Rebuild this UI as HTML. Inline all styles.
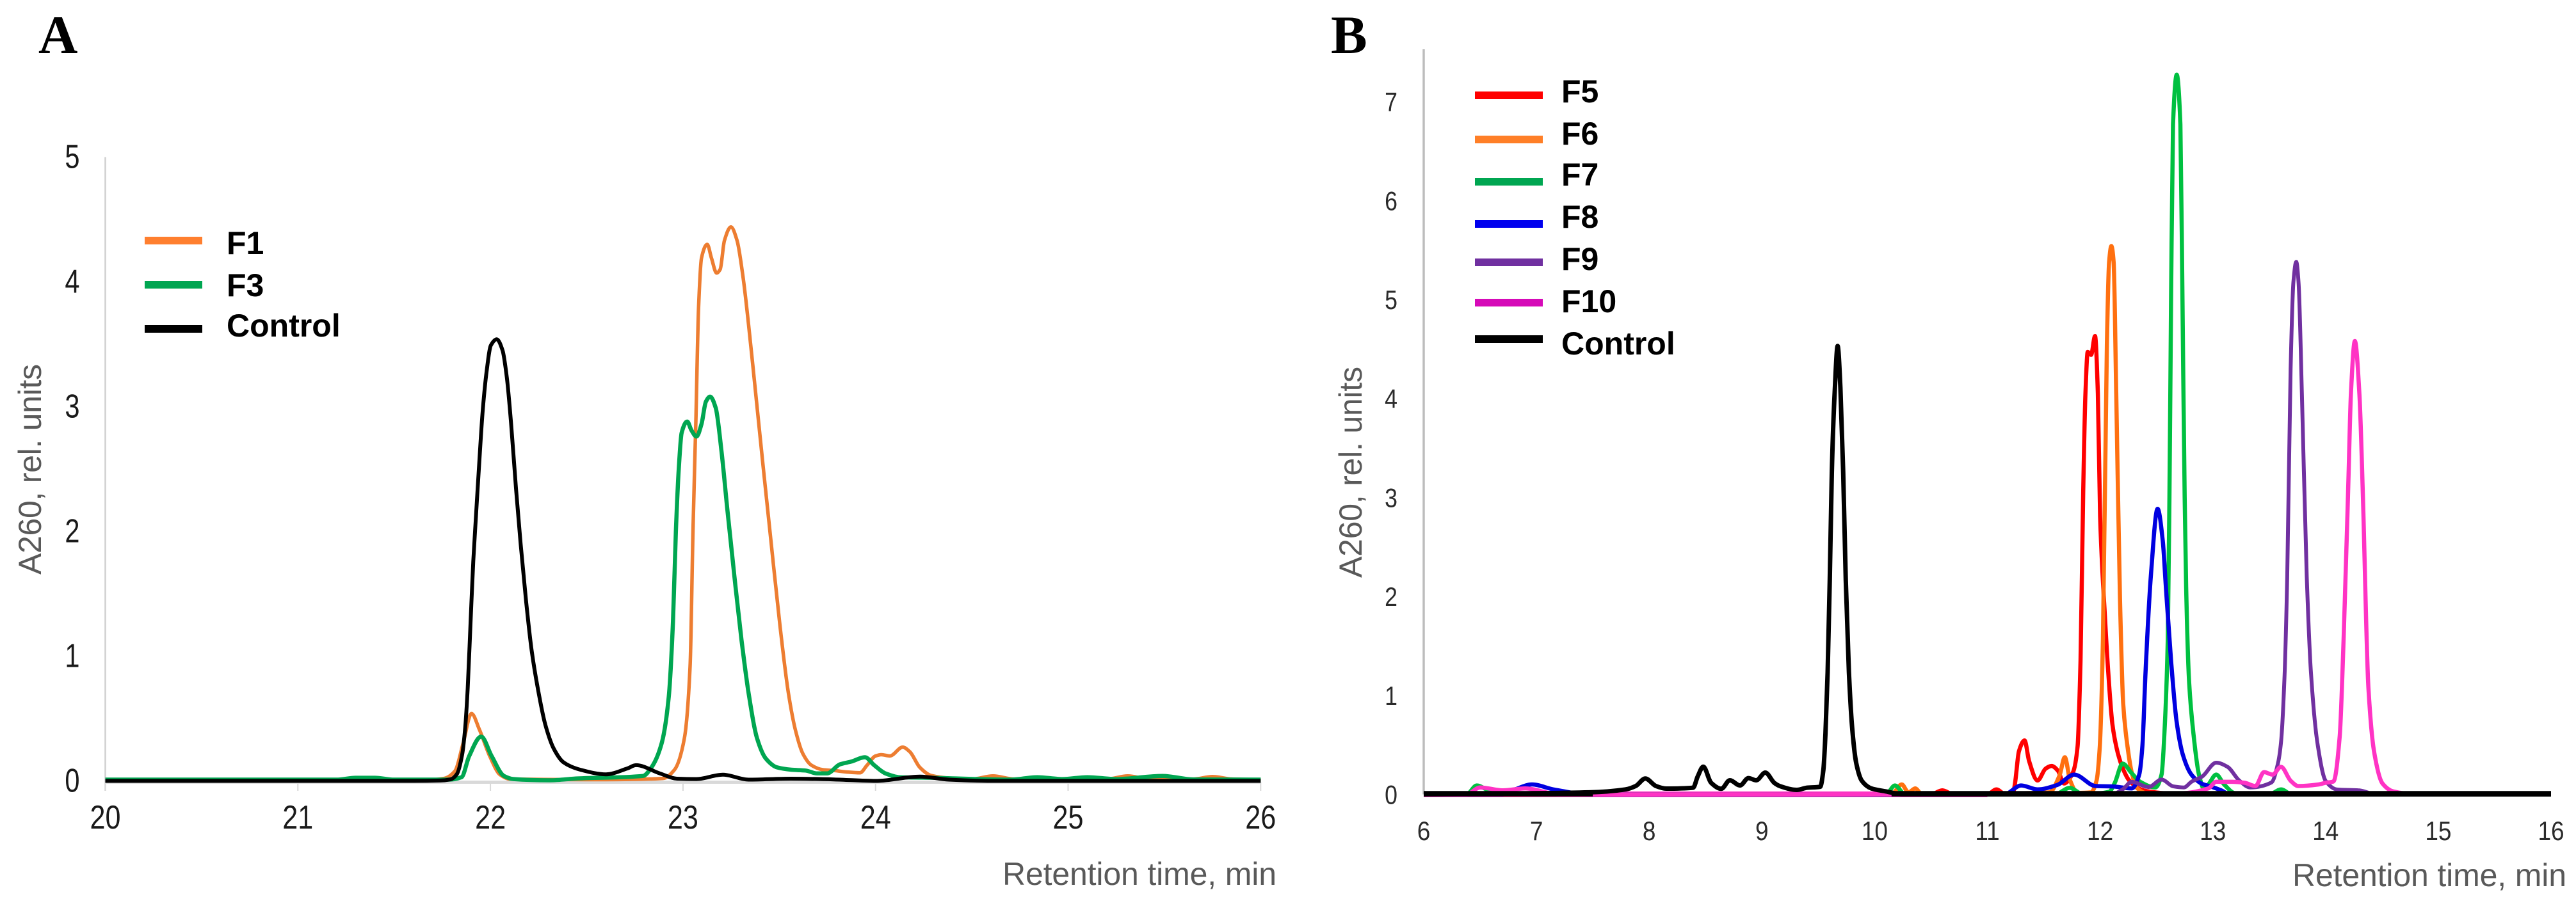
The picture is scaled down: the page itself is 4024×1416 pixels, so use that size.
<!DOCTYPE html>
<html lang="en">
<head>
<meta charset="utf-8">
<title>A260 retention time chromatograms</title>
<style>
html,body{margin:0;padding:0;background:#fff;width:4024px;height:1416px;overflow:hidden}
svg{display:block}
text{font-family:"Liberation Sans",Arial,sans-serif}
</style>
</head>
<body>
<svg id="figure" xmlns="http://www.w3.org/2000/svg" width="4024" height="1416" viewBox="0 0 4024 1416">
  <rect width="4024" height="1416" fill="#fff"/>
  <g id="panelA">
    <text x="60" y="83" font-size="85" font-weight="700" style="font-family:'Liberation Serif',serif">A</text>
    <text transform="translate(64,898) rotate(-90)" font-size="50" fill="#595959" textLength="329">A260, rel. units</text>
    <text x="1566" y="1383" font-size="50" fill="#595959" textLength="428">Retention time, min</text>
    <g>
      <rect x="226" y="370" width="90" height="12" fill="#ff7f2f"/>
      <text x="354" y="397" font-size="50" font-weight="700">F1</text>
      <rect x="226" y="439" width="90" height="12" fill="#00a651"/>
      <text x="354" y="463" font-size="50" font-weight="700">F3</text>
      <rect x="226" y="508" width="90" height="12" fill="#000"/>
      <text x="354" y="526" font-size="50" font-weight="700">Control</text>
    </g>
  </g>
  <g id="panelB">
    <text x="2079" y="83" font-size="85" font-weight="700" style="font-family:'Liberation Serif',serif">B</text>
    <text transform="translate(2127,903) rotate(-90)" font-size="50" fill="#595959" textLength="330">A260, rel. units</text>
    <text x="3581" y="1385" font-size="50" fill="#595959" textLength="428">Retention time, min</text>
    <g>
      <rect x="2304" y="143" width="106" height="12" fill="#ff0000"/>
      <text x="2439" y="160" font-size="50" font-weight="700">F5</text>
      <rect x="2304" y="212" width="106" height="12" fill="#ff7f27"/>
      <text x="2439" y="226" font-size="50" font-weight="700">F6</text>
      <rect x="2304" y="278" width="106" height="12" fill="#00a651"/>
      <text x="2439" y="290" font-size="50" font-weight="700">F7</text>
      <rect x="2304" y="344" width="106" height="12" fill="#0000ee"/>
      <text x="2439" y="356" font-size="50" font-weight="700">F8</text>
      <rect x="2304" y="404" width="106" height="12" fill="#7030a0"/>
      <text x="2439" y="422" font-size="50" font-weight="700">F9</text>
      <rect x="2304" y="467" width="106" height="12" fill="#d60ab8"/>
      <text x="2439" y="488" font-size="50" font-weight="700">F10</text>
      <rect x="2304" y="524" width="106" height="12" fill="#000"/>
      <text x="2439" y="554" font-size="50" font-weight="700">Control</text>
    </g>
  </g>
</svg>
<script>
/* Panel A axes */
const xTicksA = [20, 21, 22, 23, 24, 25, 26];
const yTicksA = [0, 1, 2, 3, 4, 5];

/* Panel A series: retention time (min) and A260 */
const timeF1 = [20, 21.7, 21.76, 21.816, 21.858, 21.902, 21.943, 21.996, 22.05, 22.1, 22.6, 22.896, 22.956, 23.007, 23.037, 23.052, 23.067, 23.081, 23.096, 23.126, 23.148, 23.175, 23.193, 23.215, 23.249, 23.281, 23.311, 23.341, 23.37, 23.415, 23.459, 23.504, 23.548, 23.585, 23.622, 23.667, 23.726, 23.785, 23.859, 23.919, 23.956, 24, 24.03, 24.074, 24.141, 24.178, 24.23, 24.289, 24.4, 24.5, 24.61, 24.72, 25.2, 25.31, 25.42, 25.65, 25.75, 25.85, 26];
const valueF1 = [0.01, 0.01, 0.02, 0.08, 0.3, 0.54, 0.41, 0.2, 0.05, 0.015, 0.01, 0.02, 0.09, 0.34, 0.92, 2, 2.9, 3.8, 4.19, 4.3, 4.19, 4.07, 4.1, 4.33, 4.44, 4.33, 4.05, 3.65, 3.22, 2.54, 1.89, 1.24, 0.7, 0.4, 0.22, 0.126, 0.09, 0.083, 0.07, 0.065, 0.126, 0.2, 0.21, 0.2, 0.27, 0.234, 0.108, 0.043, 0.02, 0.015, 0.04, 0.015, 0.015, 0.04, 0.015, 0.015, 0.035, 0.015, 0.01];
const timeF3 = [20, 21.2, 21.3, 21.4, 21.5, 21.78, 21.85, 21.89, 21.952, 22.006, 22.07, 22.12, 22.31, 22.452, 22.793, 22.837, 22.889, 22.926, 22.948, 22.963, 22.978, 22.993, 23.022, 23.044, 23.07, 23.096, 23.119, 23.141, 23.17, 23.2, 23.23, 23.267, 23.304, 23.341, 23.385, 23.43, 23.489, 23.563, 23.637, 23.696, 23.748, 23.815, 23.874, 23.945, 23.993, 24.052, 24.126, 24.3, 24.7, 24.84, 24.97, 25.1, 25.25, 25.49, 25.65, 26];
const valueF3 = [0.01, 0.01, 0.025, 0.025, 0.01, 0.01, 0.03, 0.2, 0.355, 0.2, 0.04, 0.015, 0.005, 0.02, 0.04, 0.11, 0.3, 0.67, 1.28, 2, 2.5, 2.79, 2.88, 2.81, 2.76, 2.86, 3.04, 3.08, 2.99, 2.64, 2.18, 1.64, 1.13, 0.7, 0.34, 0.18, 0.108, 0.09, 0.083, 0.06, 0.06, 0.133, 0.155, 0.19, 0.126, 0.06, 0.03, 0.025, 0.01, 0.03, 0.015, 0.03, 0.015, 0.04, 0.012, 0.01];
const timeControlA = [20, 21.6, 21.74, 21.792, 21.825, 21.853, 21.869, 21.882, 21.897, 21.911, 21.925, 21.941, 21.96, 21.98, 22.002, 22.033, 22.063, 22.085, 22.107, 22.133, 22.157, 22.185, 22.213, 22.246, 22.285, 22.329, 22.379, 22.468, 22.6, 22.711, 22.756, 22.88, 22.97, 23.07, 23.207, 23.34, 23.56, 23.785, 24, 24.23, 24.38, 24.6, 26];
const valueControlA = [0, 0, 0.003, 0.012, 0.053, 0.21, 0.428, 0.742, 1.275, 1.76, 2.12, 2.53, 2.97, 3.28, 3.49, 3.54, 3.45, 3.235, 2.87, 2.34, 1.9, 1.445, 1.057, 0.742, 0.452, 0.258, 0.15, 0.089, 0.053, 0.1, 0.126, 0.06, 0.018, 0.015, 0.05, 0.01, 0.018, 0.012, 0, 0.035, 0.01, 0, 0];

/* Panel B axes */
const xTicksB = [6, 7, 8, 9, 10, 11, 12, 13, 14, 15, 16];
const yTicksB = [0, 1, 2, 3, 4, 5, 6, 7];

/* Panel B series: retention time (min) and A260 */
const timeF5 = [6, 10.5, 10.6, 10.7, 11.0, 11.08, 11.16, 11.227, 11.245, 11.28, 11.33, 11.37, 11.445, 11.517, 11.57, 11.625, 11.68, 11.76, 11.8, 11.826, 11.85, 11.87, 11.89, 11.92, 11.955, 11.98, 12, 12.044, 12.072, 12.11, 12.157, 12.2, 12.26, 12.385, 12.53, 12.7, 16];
const valueF5 = [0, 0, 0.04, 0, 0, 0.05, 0, 0.01, 0.11, 0.435, 0.544, 0.336, 0.14, 0.26, 0.287, 0.24, 0.11, 0.224, 0.483, 1.345, 3.06, 4.05, 4.47, 4.44, 4.63, 4.05, 2.81, 1.776, 1.237, 0.7, 0.418, 0.267, 0.138, 0.04, 0.015, 0, 0];
const timeF6 = [6, 10.15, 10.24, 10.3, 10.36, 10.42, 11.55, 11.64, 11.687, 11.734, 11.8, 11.92, 11.968, 11.997, 12.025, 12.06, 12.08, 12.1, 12.12, 12.143, 12.176, 12.205, 12.243, 12.28, 12.33, 12.45, 16];
const valueF6 = [0, 0, 0.1, 0.02, 0.06, 0, 0.02, 0.19, 0.375, 0.14, 0.015, 0.02, 0.138, 0.483, 1.56, 4.54, 5.38, 5.54, 5.38, 4.05, 1.99, 0.914, 0.483, 0.224, 0.06, 0, 0];
const timeF7 = [6, 6.38, 6.47, 6.6, 7, 10.1, 10.18, 10.27, 11.6, 11.73, 11.85, 12.08, 12.13, 12.2, 12.28, 12.356, 12.49, 12.545, 12.574, 12.6, 12.615, 12.63, 12.647, 12.68, 12.712, 12.73, 12.75, 12.763, 12.79, 12.83, 12.877, 12.92, 12.96, 13.03, 13.1, 13.2, 13.5, 13.606, 13.7, 16];
const valueF7 = [0, 0, 0.09, 0.03, 0, 0, 0.09, 0, 0, 0.065, 0, 0.025, 0.116, 0.31, 0.214, 0.127, 0.07, 0.2, 0.7, 1.56, 3, 5.04, 6.77, 7.27, 6.77, 5.04, 3, 2.1, 1.13, 0.59, 0.2, 0.06, 0.1, 0.2, 0.1, 0.01, 0, 0.05, 0, 0];
const timeF8 = [6, 6.7, 6.81, 6.96, 7.15, 7.47, 11.15, 11.3, 11.445, 11.62, 11.77, 11.96, 12.11, 12.28, 12.347, 12.375, 12.403, 12.45, 12.51, 12.556, 12.583, 12.63, 12.678, 12.735, 12.81, 12.905, 12.98, 13.075, 13.15, 16];
const valueF8 = [0, 0, 0.05, 0.1, 0.05, 0, 0, 0.09, 0.05, 0.095, 0.2, 0.084, 0.08, 0.06, 0.2, 0.483, 1.237, 2.2, 2.885, 2.56, 2.1, 1.345, 0.74, 0.397, 0.2, 0.106, 0.08, 0.04, 0, 0];
const timeF9 = [6, 12.1, 12.2, 12.28, 12.43, 12.545, 12.65, 12.744, 12.81, 12.905, 13.03, 13.13, 13.236, 13.33, 13.52, 13.577, 13.605, 13.634, 13.66, 13.69, 13.715, 13.74, 13.76, 13.79, 13.833, 13.87, 13.927, 14, 14.1, 14.3, 14.45, 16];
const valueF9 = [0, 0, 0.05, 0.127, 0.074, 0.149, 0.08, 0.07, 0.127, 0.18, 0.32, 0.278, 0.138, 0.07, 0.12, 0.31, 0.526, 1.13, 2.2, 4.3, 5.18, 5.38, 5.18, 4.05, 2.2, 1.237, 0.526, 0.138, 0.05, 0.04, 0, 0];
const timeF10 = [6, 6.38, 6.5, 6.7, 6.9, 7.2, 12.7, 12.96, 13.03, 13.17, 13.28, 13.378, 13.454, 13.53, 13.605, 13.69, 13.757, 13.94, 14, 14.07, 14.125, 14.16, 14.2, 14.225, 14.26, 14.3, 14.33, 14.38, 14.43, 14.505, 14.6, 14.81, 16];
const valueF10 = [0, 0, 0.07, 0.04, 0.06, 0, 0.01, 0.06, 0.127, 0.127, 0.117, 0.084, 0.224, 0.2, 0.278, 0.138, 0.084, 0.1, 0.117, 0.13, 0.58, 1.57, 3.06, 4.05, 4.58, 4.05, 3.06, 1.08, 0.435, 0.11, 0.03, 0, 0];
const timeControlB = [6, 7.466, 7.79, 7.88, 7.966, 8.06, 8.15, 8.39, 8.43, 8.48, 8.55, 8.64, 8.715, 8.806, 8.88, 8.95, 9.03, 9.11, 9.157, 9.31, 9.4, 9.517, 9.545, 9.564, 9.583, 9.602, 9.62, 9.645, 9.672, 9.696, 9.721, 9.744, 9.772, 9.8, 9.838, 9.886, 9.97, 10.1, 10.25, 16];
const valueControlB = [0, 0.02, 0.05, 0.084, 0.16, 0.084, 0.058, 0.067, 0.18, 0.28, 0.116, 0.056, 0.142, 0.09, 0.164, 0.142, 0.22, 0.116, 0.085, 0.045, 0.067, 0.076, 0.246, 0.617, 1.236, 2.164, 3.246, 4.05, 4.53, 4.11, 3.246, 2.164, 1.236, 0.68, 0.308, 0.138, 0.06, 0.03, 0, 0];

const SVG_NS = 'http://www.w3.org/2000/svg';

function scaleA_x(t) { return 164.5 + (t - 20) * 300.8; }
function scaleA_y(v) { return 1220.5 - v * 195; }
function scaleB_x(t) { return 2224 + (t - 6) * 176.1; }
function scaleB_y(v) { return 1241.5 - v * 154.7; }

/* Monotone cubic path through the data points */
function curvePath(times, values, sx, sy) {
  const px = times.map(sx), py = values.map(sy), n = px.length;
  const d = [], m = new Array(n);
  for (let i = 0; i < n - 1; i++) d[i] = (py[i + 1] - py[i]) / (px[i + 1] - px[i]);
  m[0] = d[0]; m[n - 1] = d[n - 2];
  for (let i = 1; i < n - 1; i++) {
    if (d[i - 1] * d[i] <= 0) { m[i] = 0; continue; }
    const w1 = 2 * (px[i + 1] - px[i]) + (px[i] - px[i - 1]);
    const w2 = (px[i + 1] - px[i]) + 2 * (px[i] - px[i - 1]);
    m[i] = (w1 + w2) / (w1 / d[i - 1] + w2 / d[i]);
  }
  let path = 'M' + px[0].toFixed(1) + ' ' + py[0].toFixed(1);
  for (let i = 0; i < n - 1; i++) {
    const h = (px[i + 1] - px[i]) / 3;
    path += 'C' + (px[i] + h).toFixed(1) + ' ' + (py[i] + m[i] * h).toFixed(1) + ' ' +
      (px[i + 1] - h).toFixed(1) + ' ' + (py[i + 1] - m[i + 1] * h).toFixed(1) + ' ' +
      px[i + 1].toFixed(1) + ' ' + py[i + 1].toFixed(1);
  }
  return path;
}

function addLine(parent, x1, y1, x2, y2, color, width, name) {
  const el = document.createElementNS(SVG_NS, 'line');
  el.setAttribute('x1', x1);
  el.setAttribute('y1', y1);
  el.setAttribute('x2', x2);
  el.setAttribute('y2', y2);
  el.setAttribute('stroke', color);
  el.setAttribute('stroke-width', width);
  
  
  parent.appendChild(el);
}

function addTickLabel(parent, cx, baseline, label, size, squeeze, color, name) {
  const el = document.createElementNS(SVG_NS, 'text');
  el.setAttribute('transform', 'translate(' + cx + ',' + baseline + ') scale(' + squeeze + ',1)');
  el.setAttribute('text-anchor', 'middle');
  el.setAttribute('font-size', size);
  el.setAttribute('fill', color);
  el.textContent = label;
  
  
  parent.appendChild(el);
}

function addSeries(parent, times, values, sx, sy, color, width, name) {
  const el = document.createElementNS(SVG_NS, 'path');
  el.setAttribute('d', curvePath(times, values, sx, sy));
  el.setAttribute('fill', 'none');
  el.setAttribute('stroke', color);
  el.setAttribute('stroke-width', width);
  el.setAttribute('stroke-linejoin', 'round');
  
  
  parent.appendChild(el);
}

const groupA = document.getElementById('panelA');
const groupB = document.getElementById('panelB');

/* Panel A axes */
addLine(groupA, scaleA_x(20), scaleA_y(5), scaleA_x(20), 1236, '#cfcfcf', 2.5, 'panel-a-y-axis-line');
addLine(groupA, scaleA_x(20), 1222.5, scaleA_x(26), 1222.5, '#d9d9d9', 5, 'panel-a-x-axis-line');
xTicksA.forEach(function (t) {
  addLine(groupA, scaleA_x(t), 1222, scaleA_x(t), 1236, '#d9d9d9', 2, 'panel-a-x-tick');
  addTickLabel(groupA, scaleA_x(t), 1295, String(t), 52, 0.83, '#1a1a1a', 'panel-a-x-tick-label');
});
yTicksA.forEach(function (v) {
  addTickLabel(groupA, 113, scaleA_y(v) + 17, String(v), 52, 0.8, '#1a1a1a', 'panel-a-y-tick-label');
});

/* Panel A series */
addSeries(groupA, timeF1, valueF1, scaleA_x, scaleA_y, '#ed7d31', 5.5, 'series-f1');
addSeries(groupA, timeF3, valueF3, scaleA_x, scaleA_y, '#00a651', 6.5, 'series-f3');
addSeries(groupA, timeControlA, valueControlA, scaleA_x, scaleA_y, '#000000', 6, 'series-control-a');

/* Panel B axes */
addLine(groupB, scaleB_x(6), 77, scaleB_x(6), scaleB_y(0), '#bdbdbd', 3.5, 'panel-b-y-axis-line');
addLine(groupB, scaleB_x(6), scaleB_y(0), scaleB_x(11), scaleB_y(0), '#ff33c4', 9, 'panel-b-f10-baseline-band');
xTicksB.forEach(function (t) {
  addTickLabel(groupB, scaleB_x(t), 1313, String(t), 42, 0.88, '#2b2b2b', 'panel-b-x-tick-label');
});
yTicksB.forEach(function (v) {
  addTickLabel(groupB, 2173, scaleB_y(v) + 15, String(v), 42, 0.85, '#2b2b2b', 'panel-b-y-tick-label');
});

/* Panel B series */
addSeries(groupB, timeF5, valueF5, scaleB_x, scaleB_y, '#ff0000', 6.5, 'series-f5');
addSeries(groupB, timeF6, valueF6, scaleB_x, scaleB_y, '#ff7010', 6.5, 'series-f6');
addSeries(groupB, timeF7, valueF7, scaleB_x, scaleB_y, '#00c040', 6.5, 'series-f7');
addSeries(groupB, timeF8, valueF8, scaleB_x, scaleB_y, '#0000e0', 6.5, 'series-f8');
addSeries(groupB, timeF9, valueF9, scaleB_x, scaleB_y, '#7030a0', 6, 'series-f9');
addSeries(groupB, timeF10, valueF10, scaleB_x, scaleB_y, '#ff33c4', 6.5, 'series-f10');
addLine(groupB, scaleB_x(6), scaleB_y(0) - 1, scaleB_x(7.5), scaleB_y(0) - 1, '#000000', 8.5, 'panel-b-control-baseline-left');
addLine(groupB, scaleB_x(10.15), scaleB_y(0) - 1, scaleB_x(16), scaleB_y(0) - 1, '#000000', 8.5, 'panel-b-control-baseline-right');
addSeries(groupB, timeControlB, valueControlB, scaleB_x, scaleB_y, '#000000', 7, 'series-control-b');
</script>
</body>
</html>
